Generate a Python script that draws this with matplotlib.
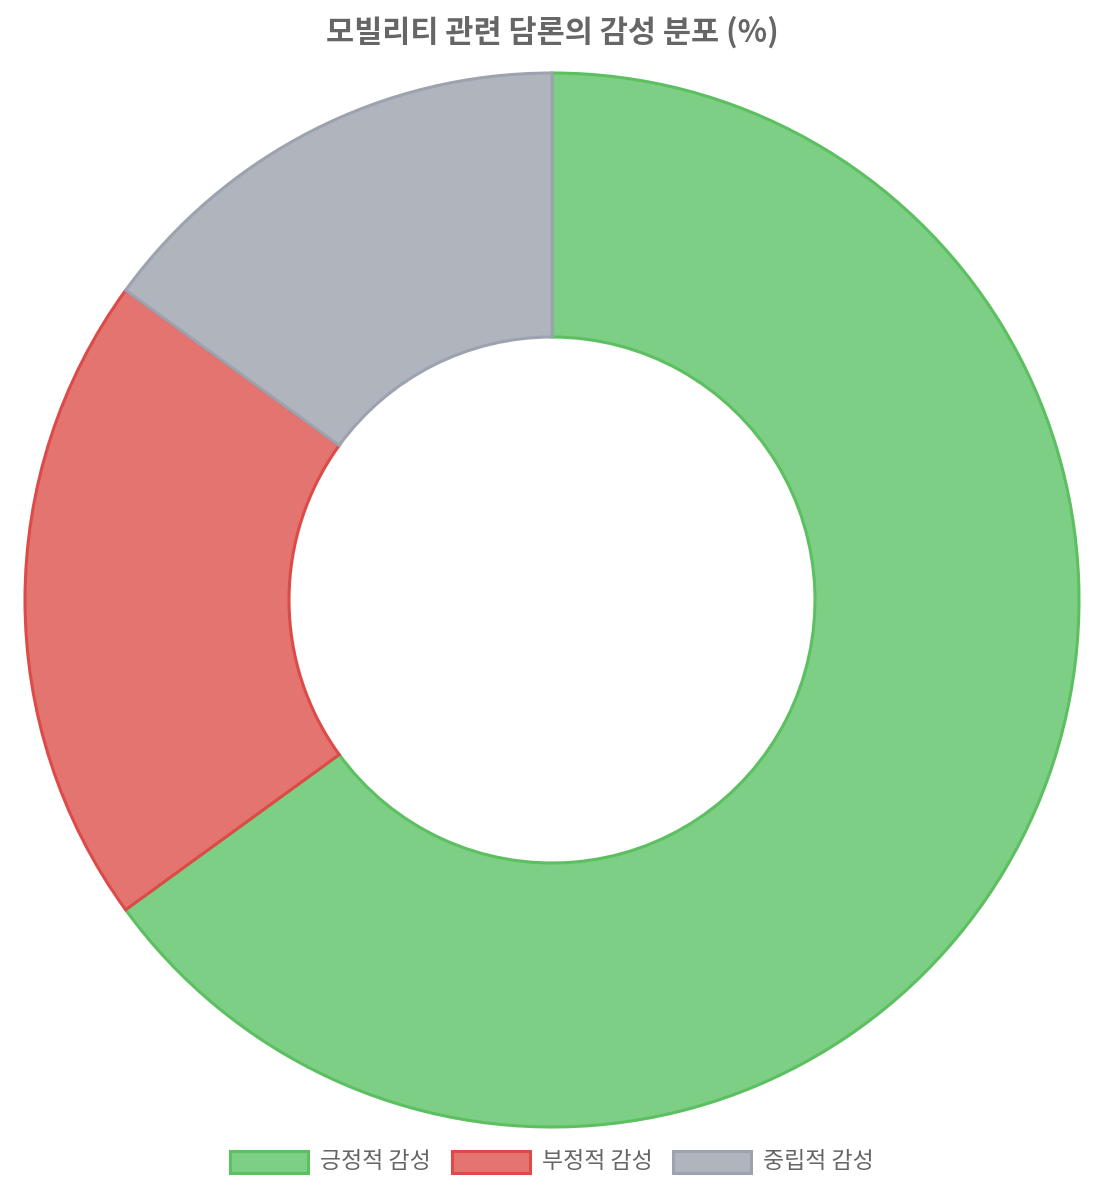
import matplotlib.pyplot as plt
from matplotlib.patches import Rectangle

plt.rcParams['font.family'] = ['Noto Sans CJK KR', 'DejaVu Sans']

labels = ['긍정적 감성', '부정적 감성', '중립적 감성']
values = [65, 20, 15]
fills = ['#7ecf86', '#e4746f', '#b0b4bc']
edges = ['#5cbf60', '#dc4b47', '#9ca3af']

W, H = 1108, 1204
fig = plt.figure(figsize=(W / 100, H / 100), dpi=100)
ax = fig.add_axes([0, 0, 1, 1])
ax.set_xlim(0, W)
ax.set_ylim(0, H)
ax.set_aspect('equal')
ax.axis('off')

wedges, _ = ax.pie(values, colors=fills, startangle=90, counterclock=False,
                   center=(552, H - 600), radius=527,
                   wedgeprops=dict(width=264, linewidth=2.2))
for w, ec in zip(wedges, edges):
    w.set_edgecolor(ec)
ax.set_xlim(0, W)
ax.set_ylim(0, H)

ax.text(552, H - 32, '모빌리티 관련 담론의 감성 분포 (%)', ha='center', va='center',
        fontsize=22, fontweight='bold', color='#666666')

# legend
box_x = [230, 452, 673]
ly = H - 1162
for x, lab, fc, ec in zip(box_x, labels, fills, edges):
    ax.add_patch(Rectangle((x, ly - 11), 78, 22, facecolor=fc, edgecolor=ec, linewidth=2.2))
    ax.text(x + 90, ly, lab, ha='left', va='center', fontsize=16.5, color='#666666')

fig.savefig('out.png', dpi=100)
